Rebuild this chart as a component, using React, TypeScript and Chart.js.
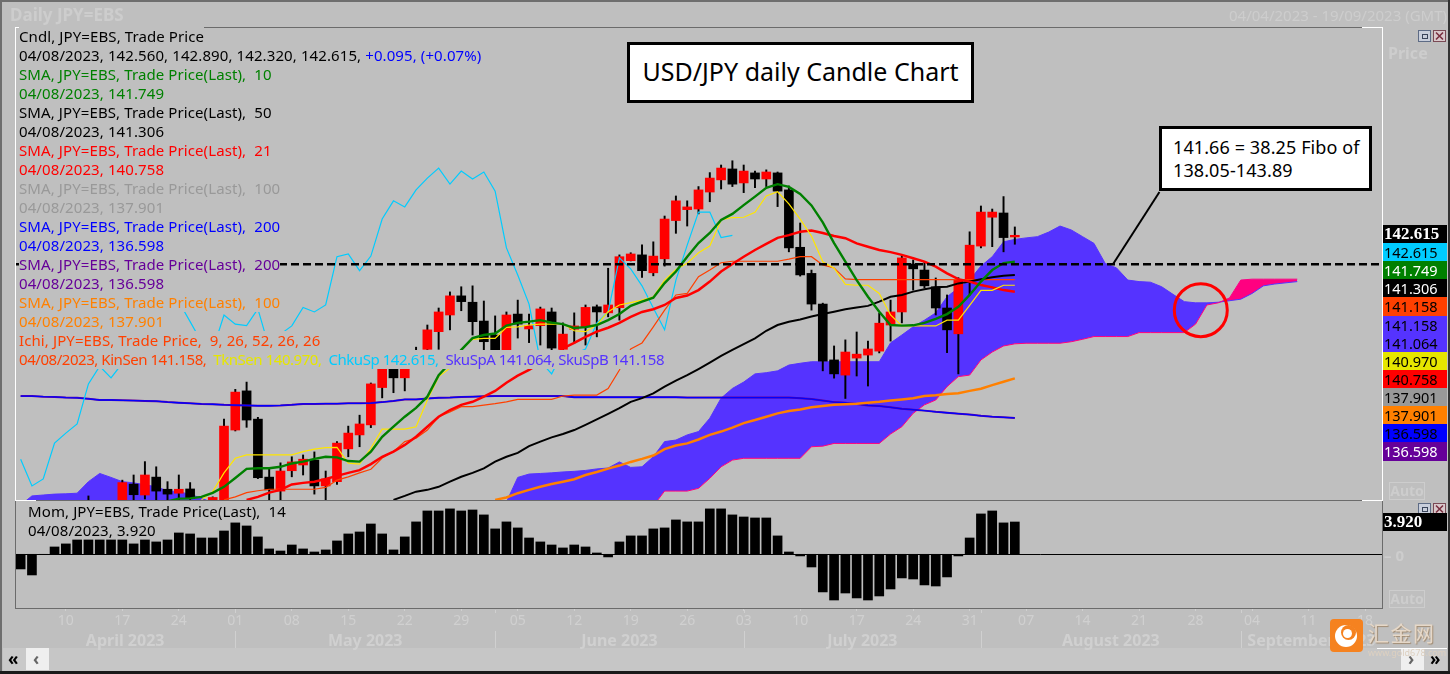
import React, { useEffect, useRef } from "react";
import { Chart, registerables } from "chart.js";

Chart.register(...registerables);

const pad = (n: number, a: number[]) => [...Array(n).fill(null), ...a];

// trading days dd/mm, 04/04/2023 - 19/09/2023
const dates = [
  "04/04","05/04","06/04","07/04","10/04","11/04","12/04","13/04","14/04","17/04","18/04","19/04","20/04","21/04","24/04","25/04","26/04","27/04","28/04",
  "01/05","02/05","03/05","04/05","05/05","08/05","09/05","10/05","11/05","12/05","15/05","16/05","17/05","18/05","19/05","22/05","23/05","24/05","25/05","26/05","29/05","30/05","31/05",
  "01/06","02/06","05/06","06/06","07/06","08/06","09/06","12/06","13/06","14/06","15/06","16/06","19/06","20/06","21/06","22/06","23/06","26/06","27/06","28/06","29/06","30/06",
  "03/07","04/07","05/07","06/07","07/07","10/07","11/07","12/07","13/07","14/07","17/07","18/07","19/07","20/07","21/07","24/07","25/07","26/07","27/07","28/07","31/07",
  "01/08","02/08","03/08","04/08","07/08","08/08","09/08","10/08","11/08","14/08","15/08","16/08","17/08","18/08","21/08","22/08","23/08","24/08","25/08","28/08","29/08","30/08","31/08",
  "01/09","04/09","05/09","06/09","07/09","08/09","11/09","12/09","13/09","14/09","15/09","18/09","19/09",
];
const weekTicks = ["10/04","17/04","24/04","01/05","08/05","15/05","22/05","29/05","05/06","12/06","19/06","26/06","03/07","10/07","17/07","24/07","31/07","07/08","14/08","21/08","28/08","04/09","11/09","18/09"];
const monthNames = ["April 2023","May 2023","June 2023","July 2023","August 2023","September 2023"];
const monthStarts = ["04/04","01/05","01/06","03/07","01/08","01/09"];

const open = [131.4,131.7,131.3,131.8,132.2,133.6,133.7,133.1,132.6,133.8,134.42,134.06,134.65,134.25,134.12,134.26,133.7,133.6,133.9,136.2,137.49,136.56,134.65,134.19,134.86,135.05,135.21,134.36,134.5,135.58,136.04,136.37,137.6,138.45,137.92,138.4,138.86,139.44,139.99,140.62,140.41,139.79,139.33,138.83,140.02,139.53,139.64,140.09,138.86,139.52,139.6,140.26,140.06,140.23,141.78,141.97,141.38,141.84,143.1,143.46,143.48,144.04,144.44,144.8,144.34,144.67,144.47,144.67,144.11,142.22,141.36,140.35,138.51,138.01,138.57,138.67,138.8,139.66,140.09,141.67,141.47,140.92,140.22,139.37,141.14,142.26,143.21,143.35,142.56];
const high = [131.9,131.9,132.0,132.4,133.7,133.8,134.03,133.4,133.85,134.55,134.72,135.16,134.99,134.5,134.72,134.47,133.85,134.0,136.56,137.54,137.78,136.62,134.91,135.12,135.32,135.38,135.48,134.85,135.82,136.33,136.69,137.75,138.45,138.6,138.6,138.93,139.66,140.22,140.75,140.92,140.95,140.45,139.96,140.09,140.48,140.02,140.25,140.22,139.73,140.06,140.32,140.32,141.53,141.97,142.04,142.3,142.4,143.25,143.91,143.75,144.22,144.68,144.93,145.07,144.93,144.73,144.77,144.7,144.24,143.02,141.47,140.38,138.97,139.17,139.43,139.13,140.05,140.48,141.97,141.8,141.74,141.21,140.65,141.22,142.73,143.58,143.48,143.89,142.89];
const low = [131.1,130.7,130.9,131.6,132.0,133.1,132.8,132.2,132.5,133.5,133.8,133.93,133.8,133.85,133.8,133.7,133.3,133.3,133.6,136.17,136.29,134.6,133.85,133.85,134.66,134.72,134.09,133.85,134.41,135.32,135.65,136.28,137.26,137.43,137.49,138.25,138.5,138.86,139.5,140.13,139.33,138.83,138.6,138.6,139.23,139.08,139.0,138.83,138.83,139.06,139.0,139.27,139.93,139.82,141.77,141.23,141.28,141.6,142.68,142.92,143.32,143.72,144.14,144.22,144.02,144.18,144.22,143.56,142.07,141.27,140.15,138.15,137.91,137.24,137.98,137.65,138.74,139.13,139.73,140.81,140.88,139.99,138.75,138.05,140.65,142.2,142.24,142.07,142.32];
const close = [131.7,131.3,131.8,132.2,133.6,133.7,133.1,132.6,133.8,134.47,134.07,134.72,134.19,134.09,134.25,133.94,133.6,133.98,136.33,137.45,136.53,134.63,134.23,134.85,135.15,135.24,134.36,134.59,135.77,136.1,136.4,137.72,138.3,137.92,138.4,138.7,139.5,140.09,140.62,140.43,139.77,139.11,138.83,139.99,139.69,139.64,140.19,138.9,139.36,139.63,140.24,140.09,140.32,141.91,142.0,141.45,141.93,143.15,143.75,143.55,144.11,144.5,144.83,144.3,144.73,144.47,144.7,144.07,142.2,141.31,140.35,138.47,138.05,138.77,138.7,138.87,139.72,140.09,141.87,141.51,140.95,140.22,139.5,141.14,142.29,143.38,143.38,142.54,142.615];

const sma10 = pad(13, [133.85,133.94,133.95,134.0,134.13,134.33,134.62,134.92,134.94,134.94,134.99,135.1,135.16,135.25,135.32,135.3,135.18,135.16,135.49,135.98,136.31,136.64,136.93,137.3,138.01,138.41,138.84,139.23,139.33,139.38,139.64,139.73,139.77,139.82,139.74,139.69,139.56,139.59,139.66,139.82,140.02,140.29,140.43,140.56,141.04,141.42,141.91,142.36,142.69,143.12,143.32,143.61,143.89,144.18,144.3,144.21,143.98,143.6,143.04,142.36,141.75,141.14,140.59,140.1,139.66,139.64,139.65,139.73,139.86,140.02,140.26,140.65,141.09,141.47,141.7,141.749]);
const sma21 = pad(20, [133.9,134.0,134.14,134.23,134.41,134.46,134.5,134.59,134.69,134.79,134.88,135.08,135.32,135.49,135.71,135.98,136.31,136.64,136.86,137.03,137.13,137.3,137.49,137.76,137.99,138.18,138.41,138.64,138.89,139.07,139.27,139.44,139.57,139.73,139.93,140.09,140.18,140.32,140.55,140.63,140.81,141.09,141.42,141.67,141.91,142.13,142.33,142.53,142.62,142.73,142.77,142.69,142.59,142.52,142.35,142.24,142.13,142.06,141.97,141.86,141.75,141.58,141.36,141.17,141.09,140.98,140.9,140.81,140.758]);
const sma50 = pad(33, [133.9,134.03,134.17,134.23,134.33,134.5,134.66,134.79,134.94,135.16,135.32,135.45,135.67,135.82,135.96,136.07,136.2,136.37,136.55,136.73,136.92,137.13,137.25,137.41,137.63,137.83,138.01,138.21,138.42,138.64,138.84,139.03,139.22,139.47,139.66,139.77,139.84,139.94,140.02,140.1,140.18,140.24,140.29,140.43,140.59,140.65,140.76,140.84,140.9,140.92,141.03,141.09,141.17,141.23,141.28,141.306]);
const sma100 = pad(42, [133.9,133.98,134.12,134.23,134.33,134.42,134.5,134.58,134.72,134.82,134.93,135.03,135.15,135.25,135.36,135.57,135.69,135.76,135.89,136.04,136.15,136.28,136.43,136.53,136.64,136.75,136.83,136.88,136.95,136.99,137.03,137.05,137.07,137.1,137.13,137.17,137.21,137.25,137.32,137.35,137.39,137.41,137.49,137.56,137.68,137.79,137.901]);
const sma200 = [137.32,137.32,137.3,137.29,137.27,137.26,137.23,137.19,137.19,137.18,137.17,137.16,137.15,137.12,137.1,137.08,137.06,137.05,137.03,137.02,137.01,137.0,137.0,137.01,137.03,137.06,137.06,137.07,137.07,137.08,137.08,137.09,137.12,137.16,137.21,137.21,137.24,137.26,137.27,137.29,137.3,137.31,137.32,137.32,137.32,137.32,137.32,137.32,137.32,137.28,137.28,137.28,137.28,137.28,137.28,137.28,137.28,137.28,137.28,137.27,137.27,137.27,137.27,137.27,137.27,137.27,137.27,137.27,137.27,137.25,137.22,137.17,137.12,137.1,137.06,137.01,136.99,136.95,136.9,136.87,136.84,136.8,136.77,136.74,136.71,136.67,136.64,136.62,136.598];
const tenkan = pad(16, [133.9,134.17,134.79,135.27,135.38,135.38,135.38,135.38,135.38,135.49,135.57,135.62,135.63,135.11,135.08,135.6,136.23,136.23,136.23,136.31,137.19,137.96,138.24,138.84,139.19,139.22,139.22,139.58,139.6,139.66,139.69,139.69,139.69,139.47,139.44,139.66,140.1,140.32,140.4,140.48,140.59,141.14,141.49,141.69,142.04,142.26,143.12,143.2,143.21,143.37,143.91,144.05,143.65,143.15,142.59,141.74,141.53,141.0,140.97,140.97,140.7,139.99,139.63,139.63,139.63,139.63,139.82,139.82,140.31,140.8,140.8,140.97,140.97]);
const kijun = pad(18, [133.9,134.0,134.14,134.2,134.25,134.25,134.25,134.25,134.25,134.31,134.55,134.66,134.79,134.91,135.28,135.49,135.82,135.93,136.2,136.64,136.8,136.97,136.97,137.02,137.07,137.13,137.21,137.21,137.21,137.21,137.32,137.35,137.35,137.35,137.57,138.18,138.87,139.07,139.6,140.15,140.65,140.7,141.25,141.47,141.71,141.76,141.76,141.76,141.76,141.76,141.83,141.91,141.91,141.64,141.54,141.18,141.158,141.158,141.158,141.158,141.158,141.158,141.158,141.158,141.158,141.158,141.158,141.158,141.158,141.158,141.158]);
const chikou = [135.24,134.36,134.59,135.77,136.1,136.4,137.72,138.3,137.92,138.4,138.7,139.5,140.09,140.62,140.43,139.77,139.11,138.83,139.99,139.69,139.64,140.19,138.9,139.36,139.63,140.24,140.09,140.32,141.91,142.0,141.45,141.93,143.15,143.75,143.55,144.11,144.5,144.83,144.3,144.73,144.47,144.7,144.07,142.2,141.31,140.35,138.47,138.05,138.77,138.7,138.87,139.72,140.09,141.87,141.51,140.95,140.22,139.5,141.14,142.29,143.38,143.38,142.54,142.615];
const spanA = [133.73,134.03,134.06,134.09,134.1,134.12,134.5,134.77,134.64,134.5,134.46,134.4,134.33,134.2,134.17,134.08,133.96,133.8,133.7,133.7,133.7,133.7,133.7,133.7,133.7,133.7,133.7,133.7,133.7,133.7,133.7,133.7,133.7,133.7,133.7,133.7,133.7,133.7,133.7,133.7,133.7,133.7,133.7,133.83,134.64,134.75,134.77,134.79,134.82,134.84,134.87,134.92,134.95,135.15,134.97,134.99,135.32,135.82,135.87,136.04,136.15,136.59,137.25,137.57,137.78,138.05,138.09,138.15,138.34,138.4,138.45,138.45,138.45,138.45,138.45,138.45,138.45,139.07,139.33,139.6,139.82,140.06,140.59,140.88,141.14,141.6,141.91,142.4,142.48,142.53,142.57,142.72,142.92,142.79,142.57,142.35,141.69,141.54,141.14,141.09,141.07,140.92,140.67,140.43,140.39,140.39,140.41,140.46,140.51,140.7,140.95,141.01,141.05,141.09];
const spanB = [133.2,133.2,133.2,133.2,133.2,133.2,133.2,133.2,133.2,133.2,133.2,133.2,133.2,133.2,133.2,133.2,133.2,133.2,133.2,133.2,133.2,133.2,133.2,133.2,133.2,133.2,133.2,133.2,133.2,133.2,133.2,133.2,133.2,133.2,133.2,133.2,133.2,133.2,133.2,133.2,133.2,133.2,133.2,133.2,133.2,133.2,133.2,133.2,133.2,133.2,133.2,133.2,133.2,133.2,133.2,133.2,133.7,134.19,134.19,134.19,134.28,134.61,134.99,135.21,135.27,135.27,135.27,135.27,135.27,135.27,135.65,135.67,135.76,135.76,135.76,135.76,135.76,136.07,136.31,136.75,137.03,137.19,137.63,137.96,138.01,138.51,138.77,138.97,139.04,139.06,139.06,139.06,139.06,139.11,139.19,139.28,139.28,139.28,139.28,139.41,139.41,139.41,139.41,139.41,139.69,140.32,140.39,140.55,141.14,141.17,141.17,141.17,141.17,141.17];
const momentum = [-1.78,-2.51,0,0.89,1.26,1.74,1.74,1.74,1.74,1.74,1.26,1.74,1.5,1.74,2.59,2.47,1.98,1.98,2.83,3.81,3.44,2.11,0.65,0.4,1.13,0.65,0.28,0.53,1.62,2.47,2.71,3.68,2.47,0.53,2.11,3.93,5.26,5.26,5.51,5.26,5.38,4.78,3.08,3.93,3.2,1.98,1.5,1.13,0.77,1.13,0.89,0.16,-0.32,1.5,2.23,2.23,3.08,3.2,4.17,3.93,3.93,5.51,5.51,4.78,4.53,4.41,4.41,2.23,0.28,-0.2,-1.54,-4.57,-5.55,-4.7,-5.3,-5.55,-5.06,-4.21,-2.87,-3.0,-3.72,-3.85,-2.75,-0.2,1.98,4.9,5.26,3.81,3.92];

const fiboLevel = 141.66;
const leader = { from: [100.8, 144.04], to: [96.7, 141.67] };
const ringCentre = [104.46, 140.15];

const BG = "#bfbfbf";
const FAINT = "#d0d0d0";
const FONT = '"Noto Sans", sans-serif';
const UP = "#ff0000";
const DOWN = "#000000";
const CLOUD = "#5533ff";
const PINK = "#ff0080";

type Span = [string, string];
const legendRows: Span[][] = [
  [["Cndl, JPY=EBS, Trade Price", "#000"]],
  [["04/08/2023, 142.560, 142.890, 142.320, 142.615, ", "#000"], ["+0.095, (+0.07%)", "#0000ff"]],
  [["SMA, JPY=EBS, Trade Price(Last),  10", "#008000"]],
  [["04/08/2023, 141.749", "#008000"]],
  [["SMA, JPY=EBS, Trade Price(Last),  50", "#000"]],
  [["04/08/2023, 141.306", "#000"]],
  [["SMA, JPY=EBS, Trade Price(Last),  21", "#ff0000"]],
  [["04/08/2023, 140.758", "#ff0000"]],
  [["SMA, JPY=EBS, Trade Price(Last),  100", "#999999"]],
  [["04/08/2023, 137.901", "#999999"]],
  [["SMA, JPY=EBS, Trade Price(Last),  200", "#0000ff"]],
  [["04/08/2023, 136.598", "#0000ff"]],
  [["SMA, JPY=EBS, Trade Price(Last),  200", "#660099"]],
  [["04/08/2023, 136.598", "#660099"]],
  [["SMA, JPY=EBS, Trade Price(Last),  100", "#ff8000"]],
  [["04/08/2023, 137.901", "#ff8000"]],
  [["Ichi, JPY=EBS, Trade Price,  9, 26, 52, 26, 26", "#ff4000"]],
  [["04/08/2023, KinSen 141.158,  ", "#ff4000"], ["TknSen 140.970,  ", "#e6e600"], ["ChkuSp 142.615,  ", "#00ccff"], ["SkuSpA 141.064, SkuSpB 141.158", CLOUD]],
];

const priceBoxes: [string, string, string][] = [
  ["142.615", "#000000", "#ffffff"],
  ["142.615", "#00ccff", "#000000"],
  ["141.749", "#008000", "#ffffff"],
  ["141.306", "#000000", "#ffffff"],
  ["141.158", "#ff4000", "#000000"],
  ["141.158", CLOUD, "#000000"],
  ["141.064", CLOUD, "#000000"],
  ["140.970", "#e6e600", "#000000"],
  ["140.758", "#ff0000", "#000000"],
  ["137.901", "#999999", "#000000"],
  ["137.901", "#ff8000", "#000000"],
  ["136.598", "#0000ff", "#000000"],
  ["136.598", "#660099", "#ffffff"],
];

const line = (label: string, data: (number | null)[], color: string, width: number, order: number) => ({
  type: "line" as const,
  label,
  data,
  borderColor: color,
  backgroundColor: color,
  borderWidth: width,
  pointRadius: 0,
  tension: 0,
  fill: false,
  order,
});

const Box = ({ s }: { s: React.CSSProperties }) => <div style={{ position: "absolute", ...s }} />;

const Text = ({ x, y, children, s }: { x: number; y: number; children: React.ReactNode; s?: React.CSSProperties }) => (
  <div style={{ position: "absolute", left: x, top: y, whiteSpace: "pre", fontFamily: FONT, ...s }}>{children}</div>
);

const WinIcons = ({ y }: { y: number }) => (
  <>
    <div style={{ position: "absolute", left: 1418, top: y, width: 11, height: 10, background: "#c8cedb", border: "1px solid #5d6b85" }}>
      <div style={{ position: "absolute", left: 3, top: 3, width: 4, height: 3, border: "1px solid #39445a" }} />
    </div>
    <svg style={{ position: "absolute", left: 1433, top: y }} width="13" height="12">
      <rect x="0.5" y="0.5" width="12" height="11" fill="#d9c9cc" stroke="#7a4a55" />
      <path d="M3 2.5 L10 9.5 M10 2.5 L3 9.5" stroke="#7a3040" strokeWidth="1.6" />
    </svg>
  </>
);

export default function App() {
  const priceRef = useRef<HTMLCanvasElement>(null);
  const momRef = useRef<HTMLCanvasElement>(null);

  useEffect(() => {
    const overlay = {
      id: "overlay",
      afterDatasetsDraw(c: any) {
        const { ctx, chartArea, scales } = c;
        const y = scales.y.getPixelForValue(fiboLevel);
        ctx.save();
        ctx.beginPath();
        ctx.rect(chartArea.left, chartArea.top, chartArea.width, chartArea.height);
        ctx.clip();
        ctx.strokeStyle = "#000";
        ctx.lineWidth = 2.5;
        ctx.setLineDash([8, 4]);
        ctx.beginPath();
        ctx.moveTo(chartArea.left, y);
        ctx.lineTo(chartArea.right, y);
        ctx.stroke();
        ctx.setLineDash([]);
        ctx.lineWidth = 2;
        ctx.beginPath();
        ctx.moveTo(scales.x.getPixelForValue(leader.from[0]), scales.y.getPixelForValue(leader.from[1]));
        ctx.lineTo(scales.x.getPixelForValue(leader.to[0]), scales.y.getPixelForValue(leader.to[1]));
        ctx.stroke();
        ctx.strokeStyle = "#ff0000";
        ctx.lineWidth = 3;
        ctx.beginPath();
        ctx.arc(scales.x.getPixelForValue(ringCentre[0]), scales.y.getPixelForValue(ringCentre[1]), 26.5, 0, Math.PI * 2);
        ctx.stroke();
        ctx.restore();
      },
    };

    const price = new Chart(priceRef.current!, {
      type: "bar",
      data: {
        labels: dates,
        datasets: [
          {
            ...line("SkuSpA", spanA, CLOUD, 1, 30),
            fill: { target: "+1", above: CLOUD, below: PINK },
          },
          line("SkuSpB", spanB, PINK, 1, 29),
          {
            type: "bar",
            label: "Wick",
            data: dates.slice(0, low.length).map((_, i) => [low[i], high[i]]),
            backgroundColor: "#000",
            barThickness: 1.3,
            grouped: false,
            order: 20,
          },
          {
            type: "bar",
            label: "Cndl",
            data: dates.slice(0, open.length).map((_, i) => [open[i], close[i]]),
            backgroundColor: open.map((o, i) => (close[i] >= o ? UP : DOWN)),
            barThickness: 9,
            grouped: false,
            order: 19,
          },
          line("SMA 200 purple", sma200, "#660099", 2, 10),
          line("SMA 200", sma200, "#0000ff", 1.3, 9),
          line("SMA 100", sma100, "#ff8000", 2.5, 8),
          line("ChkuSp", chikou, "#00ccff", 1.2, 7),
          line("KinSen", kijun, "#ff4000", 1.2, 6),
          line("SMA 50", sma50, "#000000", 2, 5),
          line("SMA 21", sma21, "#ff0000", 2.5, 4),
          line("TknSen", tenkan, "#ffe600", 1.2, 3),
          line("SMA 10", sma10, "#008000", 2.4, 2),
        ] as any,
      },
      options: {
        responsive: false,
        animation: false,
        devicePixelRatio: 1,
        layout: { padding: { left: 15, right: 68, top: 27, bottom: 0 } },
        plugins: { legend: { display: false }, tooltip: { enabled: false } },
        scales: {
          x: { type: "category", display: false, offset: true },
          y: { display: false, min: 133.896, max: 149.476 },
        },
      } as any,
      plugins: [overlay],
    });

    const zeroAndMonths = {
      id: "zeroAndMonths",
      afterDatasetsDraw(c: any) {
        const { ctx, chartArea, scales } = c;
        const y0 = Math.round(scales.y.getPixelForValue(0)) + 0.5;
        ctx.save();
        ctx.strokeStyle = "#000";
        ctx.lineWidth = 1;
        ctx.beginPath();
        ctx.moveTo(chartArea.left, y0);
        ctx.lineTo(chartArea.right, y0);
        ctx.stroke();
        ctx.font = 'bold 16px "Noto Sans", sans-serif';
        ctx.fillStyle = FAINT;
        ctx.textAlign = "center";
        ctx.textBaseline = "middle";
        const stepW = scales.x.getPixelForValue(1) - scales.x.getPixelForValue(0);
        monthStarts.forEach((d, m) => {
          const startIdx = dates.indexOf(d);
          const nextIdx = m + 1 < monthStarts.length ? dates.indexOf(monthStarts[m + 1]) : dates.length;
          const a = m === 0 ? chartArea.left : scales.x.getPixelForValue(startIdx);
          const b = scales.x.getPixelForValue(nextIdx) - (m + 1 < monthStarts.length ? 0 : stepW / 2);
          if (m > 0) {
            const px = Math.round(a) + 0.5;
            ctx.strokeStyle = FAINT;
            ctx.beginPath();
            ctx.moveTo(px, chartArea.bottom + 2);
            ctx.lineTo(px, chartArea.bottom + 5);
            ctx.moveTo(px, chartArea.bottom + 23);
            ctx.lineTo(px, chartArea.bottom + 40);
            ctx.stroke();
          }
          ctx.fillText(monthNames[m], (a + b) / 2, chartArea.bottom + 33);
        });
        ctx.restore();
      },
    };

    const mom = new Chart(momRef.current!, {
      type: "bar",
      data: {
        labels: dates,
        datasets: [{ label: "Mom", data: momentum, backgroundColor: "#000", barThickness: 9 }],
      },
      options: {
        responsive: false,
        animation: false,
        devicePixelRatio: 1,
        layout: { padding: { left: 15, right: 68, top: 0, bottom: 0 } },
        plugins: { legend: { display: false }, tooltip: { enabled: false } },
        scales: {
          x: {
            type: "category",
            offset: true,
            afterFit: (s: any) => {
              s.height = 66;
            },
            border: { display: false },
            grid: { display: true, offset: false, drawOnChartArea: false, drawTicks: true, tickLength: 3, tickColor: FAINT },
            ticks: {
              autoSkip: false,
              maxRotation: 0,
              padding: 2,
              color: FAINT,
              font: { family: "Noto Sans", size: 14 },
              callback: (_: any, i: number) => (weekTicks.includes(dates[i]) ? dates[i].slice(0, 2) : null),
            },
          },
          y: { display: false, min: -6.52, max: 6.59 },
        },
      } as any,
      plugins: [zeroAndMonths],
    });

    return () => {
      price.destroy();
      mom.destroy();
    };
  }, []);

  return (
    <div style={{ position: "fixed", left: 0, top: 0, width: 1450, height: 674, overflow: "hidden", background: BG }}>
      {/* scroll band */}
      <Box s={{ left: 3, top: 648, width: 1444, height: 23, background: "#c6c6c6" }} />
      <canvas ref={priceRef} width={1450} height={500} style={{ position: "absolute", left: 0, top: 0 }} />
      <canvas ref={momRef} width={1450} height={174} style={{ position: "absolute", left: 0, top: 500 }} />

      {/* frame */}
      <Box s={{ left: 0, top: 0, width: 1450, height: 2, background: "#6e6e6e" }} />
      <Box s={{ left: 0, top: 0, width: 2, height: 674, background: "#6e6e6e" }} />
      <Box s={{ left: 1448, top: 0, width: 2, height: 674, background: "#333" }} />
      <Box s={{ left: 0, top: 671, width: 1450, height: 3, background: "#1a1a1a" }} />

      {/* panel borders */}
      <Box s={{ left: 15, top: 27, width: 1367, height: 1, background: "#6b6b6b" }} />
      <Box s={{ left: 15, top: 27, width: 21, height: 1, background: "#fff" }} />
      <Box s={{ left: 1362, top: 27, width: 21, height: 1, background: "#fff" }} />
      <Box s={{ left: 15, top: 27, width: 1, height: 473, background: "#fff" }} />
      <Box s={{ left: 1382, top: 27, width: 1, height: 473, background: "#fff" }} />
      <Box s={{ left: 15, top: 500, width: 1367, height: 1, background: "#6b6b6b" }} />
      <Box s={{ left: 15, top: 500, width: 21, height: 1, background: "#fff" }} />
      <Box s={{ left: 1362, top: 500, width: 21, height: 1, background: "#fff" }} />
      <Box s={{ left: 15, top: 501, width: 1, height: 108, background: "#6b6b6b" }} />
      <Box s={{ left: 1382, top: 501, width: 1, height: 108, background: "#6b6b6b" }} />
      <Box s={{ left: 15, top: 608, width: 1368, height: 1, background: "#6b6b6b" }} />

      {/* faint headers */}
      <Text x={10} y={4} s={{ color: "#cdcdcd", fontWeight: 700, fontSize: 17, lineHeight: "22px" }}>Daily JPY=EBS</Text>
      <Text x={1229} y={5} s={{ color: "#cdcdcd", fontSize: 15, lineHeight: "20px" }}>04/04/2023 - 19/09/2023 (GMT)</Text>
      <Text x={1388} y={43} s={{ color: "#cdcdcd", fontWeight: 700, fontSize: 16, lineHeight: "20px" }}>Price</Text>
      <WinIcons y={30} />
      <WinIcons y={503} />

      {/* legend */}
      {legendRows.map((row, r) => (
        <div
          key={r}
          style={{
            position: "absolute", left: 19, top: 27 + r * 19, height: 19, lineHeight: "19px",
            background: BG, whiteSpace: "pre", fontFamily: FONT, fontSize: 15,
            letterSpacing: r === legendRows.length - 1 ? -0.45 : 0.1,
          }}
        >
          {row.map(([t, c], i) => (
            <span key={i} style={{ color: c }}>{t}</span>
          ))}
        </div>
      ))}

      {/* call-outs */}
      <div style={{ position: "absolute", left: 627, top: 42, width: 341, height: 55, border: "3px solid #000", background: "#fff", textAlign: "center", lineHeight: "52px", fontFamily: FONT, fontSize: 25 }}>
        USD/JPY daily Candle Chart
      </div>
      <div style={{ position: "absolute", left: 1159, top: 126, width: 207, height: 59, border: "3px solid #000", background: "#fff", fontFamily: FONT, fontSize: 18, lineHeight: "23px", padding: 0 }}>
        <div style={{ position: "absolute", left: 11, top: 7, whiteSpace: "pre", letterSpacing: 0.1 }}>{"141.66 = 38.25 Fibo of\n138.05-143.89"}</div>
      </div>

      {/* last-value boxes */}
      {priceBoxes.map(([t, bg, fg], i) => (
        <div
          key={i}
          style={{
            position: "absolute", left: 1383, top: 225 + i * 18.1, width: 64, height: 19, background: bg, color: fg,
            fontFamily: i === 0 ? '"Liberation Serif", serif' : FONT, fontWeight: i === 0 ? 700 : 400,
            fontSize: i === 0 ? 17 : 14.5, lineHeight: "18px", paddingLeft: 1, boxSizing: "border-box",
          }}
        >
          {t}
        </div>
      ))}
      <div style={{ position: "absolute", left: 1383, top: 513, width: 64, height: 18, background: "#000", color: "#fff", fontFamily: '"Liberation Serif", serif', fontWeight: 700, fontSize: 17, lineHeight: "18px", paddingLeft: 1, boxSizing: "border-box" }}>3.920</div>

      {/* momentum legend */}
      <div style={{ position: "absolute", left: 28, top: 502, height: 19, lineHeight: "19px", whiteSpace: "pre", fontFamily: FONT, fontSize: 15, letterSpacing: 0.1, color: "#000" }}>Mom, JPY=EBS, Trade Price(Last),  14</div>
      <div style={{ position: "absolute", left: 28, top: 521, height: 19, lineHeight: "19px", whiteSpace: "pre", fontFamily: FONT, fontSize: 15, letterSpacing: 0.1, color: "#000" }}>04/08/2023, 3.920</div>

      {/* faint right axis */}
      <Text x={1384} y={546} s={{ color: "#cdcdcd", fontSize: 15, fontWeight: 700, lineHeight: "18px" }}>– 0</Text>
      <div style={{ position: "absolute", left: 1389, top: 482, width: 34, height: 16, border: "1px solid #cdcdcd", color: "#cdcdcd", fontFamily: FONT, fontWeight: 700, fontSize: 14, lineHeight: "16px", textAlign: "center" }}>Auto</div>
      <div style={{ position: "absolute", left: 1389, top: 590, width: 34, height: 16, border: "1px solid #cdcdcd", color: "#cdcdcd", fontFamily: FONT, fontWeight: 700, fontSize: 14, lineHeight: "16px", textAlign: "center" }}>Auto</div>

      {/* scroll buttons */}
      <Box s={{ left: 3, top: 648, width: 23, height: 22, background: "#c9c9c9" }} />
      <Box s={{ left: 26, top: 648, width: 23, height: 22, background: "#efefef" }} />
      <Box s={{ left: 1377, top: 648, width: 70, height: 1, background: "#fff" }} />
      <Box s={{ left: 1401, top: 649, width: 23, height: 21, background: "#efefef" }} />
      <Box s={{ left: 1424, top: 649, width: 23, height: 21, background: "#c9c9c9" }} />
      <Text x={8} y={649} s={{ fontSize: 17, fontWeight: 700, lineHeight: "20px" }}>«</Text>
      <Text x={33} y={649} s={{ fontSize: 17, fontWeight: 700, lineHeight: "20px", color: "#666" }}>‹</Text>
      <Text x={1408} y={649} s={{ fontSize: 17, fontWeight: 700, lineHeight: "20px", color: "#666" }}>›</Text>
      <Text x={1430} y={649} s={{ fontSize: 17, fontWeight: 700, lineHeight: "20px" }}>»</Text>

      {/* watermark */}
      <svg style={{ position: "absolute", left: 1330, top: 619 }} width="33" height="33">
        <rect width="33" height="33" rx="4" fill="#f58220" />
        <circle cx="16" cy="17" r="11" fill="#fff" />
        <circle cx="18.5" cy="13.5" r="7.5" fill="#f58220" />
        <circle cx="17.5" cy="14.5" r="4.5" fill="#fff" />
      </svg>
      <Text x={1368} y={619} s={{ fontFamily: '"Noto Sans CJK SC", sans-serif', fontSize: 21, lineHeight: "26px", letterSpacing: 1.5, color: "#e6d8c8", textShadow: "1px 1px 1px #a08a70" }}>汇金网</Text>
      <Text x={1368} y={647} s={{ fontSize: 9, lineHeight: "12px", color: "#ddd0c0" }}>www.gold678.com</Text>
    </div>
  );
}
